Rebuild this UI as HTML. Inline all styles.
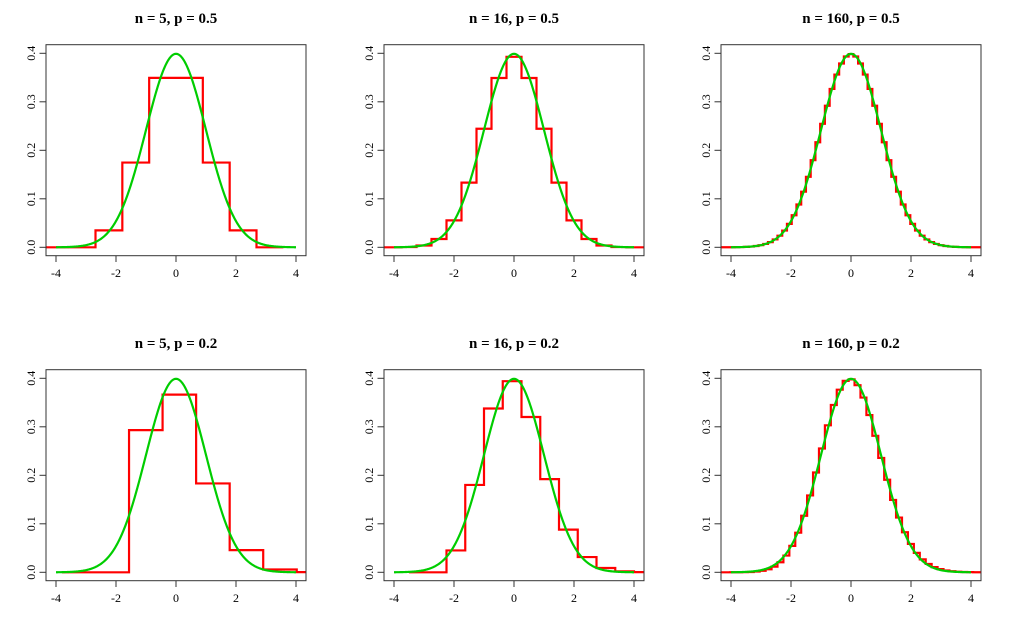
<!DOCTYPE html>
<html><head><meta charset="utf-8"><style>
html,body{margin:0;padding:0;background:#fff;}
svg{display:block;font-family:"Liberation Serif",serif;}
.t{font-size:15px;font-weight:bold;text-anchor:middle;}
.l{font-size:12px;text-anchor:middle;fill:#000;}
</style></head><body>
<svg id="s" width="1020" height="617" xmlns="http://www.w3.org/2000/svg">
<g id="p0" transform="translate(0,0)"><text class="t" x="176" y="23">n = 5, p = 0.5</text></g>
<g id="p1" transform="translate(338,0)"><text class="t" x="176" y="23">n = 16, p = 0.5</text></g>
<g id="p2" transform="translate(675,0)"><text class="t" x="176" y="23">n = 160, p = 0.5</text></g>
<g id="p3" transform="translate(0,325)"><text class="t" x="176" y="23">n = 5, p = 0.2</text></g>
<g id="p4" transform="translate(338,325)"><text class="t" x="176" y="23">n = 16, p = 0.2</text></g>
<g id="p5" transform="translate(675,325)"><text class="t" x="176" y="23">n = 160, p = 0.2</text></g>
</svg>
<script>
var cfg=[[5,.5],[16,.5],[160,.5],[5,.2],[16,.2],[160,.2]];
var NS="http://www.w3.org/2000/svg";
function X(v){return 176+30*v;}
function Y(v){return 247.3-485*v;}
function lc(n,k){var s=0;for(var i=1;i<=k;i++)s+=Math.log(n-k+i)-Math.log(i);return s;}
function el(g,t,a,txt){var e=document.createElementNS(NS,t);for(var k in a)e.setAttribute(k,a[k]);if(txt!==undefined)e.textContent=txt;g.appendChild(e);return e;}
cfg.forEach(function(c,i){
 var g=document.getElementById("p"+i),n=c[0],p=c[1],q=1-p,sd=Math.sqrt(n*p*q),m=n*p,w=1/sd,sh=(q-p)/(6*sd);
 var L=46,R=306;
 var cp=el(g,"clipPath",{id:"c"+i});el(cp,"rect",{x:L,y:44.7,width:R-L,height:211});
 var d="",first=true;
 for(var k=-2;k<=n+1;k++){
  var h=(k<0||k>n)?0:Math.exp(lc(n,k)+k*Math.log(p)+(n-k)*Math.log(q))*sd;
  var x0=X((k-m)/sd-w/2+sh),x1=X((k-m)/sd+w/2+sh),y=Y(h);
  if(first){d+="M"+x0.toFixed(2)+" "+y.toFixed(2);first=false;}else d+="L"+x0.toFixed(2)+" "+y.toFixed(2);
  d+="L"+x1.toFixed(2)+" "+y.toFixed(2);
 }
 el(g,"path",{d:d,fill:"none",stroke:"#ff0000","stroke-width":2.2,"clip-path":"url(#c"+i+")"});
 var gd="";
 for(var j=0;j<=400;j++){var v=-4+8*j/400,f=Math.exp(-v*v/2)/Math.sqrt(2*Math.PI);gd+=(j?"L":"M")+X(v).toFixed(2)+" "+Y(f).toFixed(2);}
 el(g,"path",{d:gd,fill:"none",stroke:"#00cd00","stroke-width":2.2});
 el(g,"rect",{x:L,y:44.7,width:R-L,height:211,fill:"none",stroke:"#333","stroke-width":1});
 [-4,-2,0,2,4].forEach(function(v){el(g,"line",{x1:X(v),x2:X(v),y1:255.7,y2:262,stroke:"#333"});el(g,"text",{"class":"l",x:X(v),y:277},String(v));});
 [0,.1,.2,.3,.4].forEach(function(v){el(g,"line",{x1:46,x2:39.5,y1:Y(v),y2:Y(v),stroke:"#333"});el(g,"text",{"class":"l",x:0,y:0,transform:"translate(35,"+Y(v)+") rotate(-90)"},v.toFixed(1));});
});
</script>
</body></html>
